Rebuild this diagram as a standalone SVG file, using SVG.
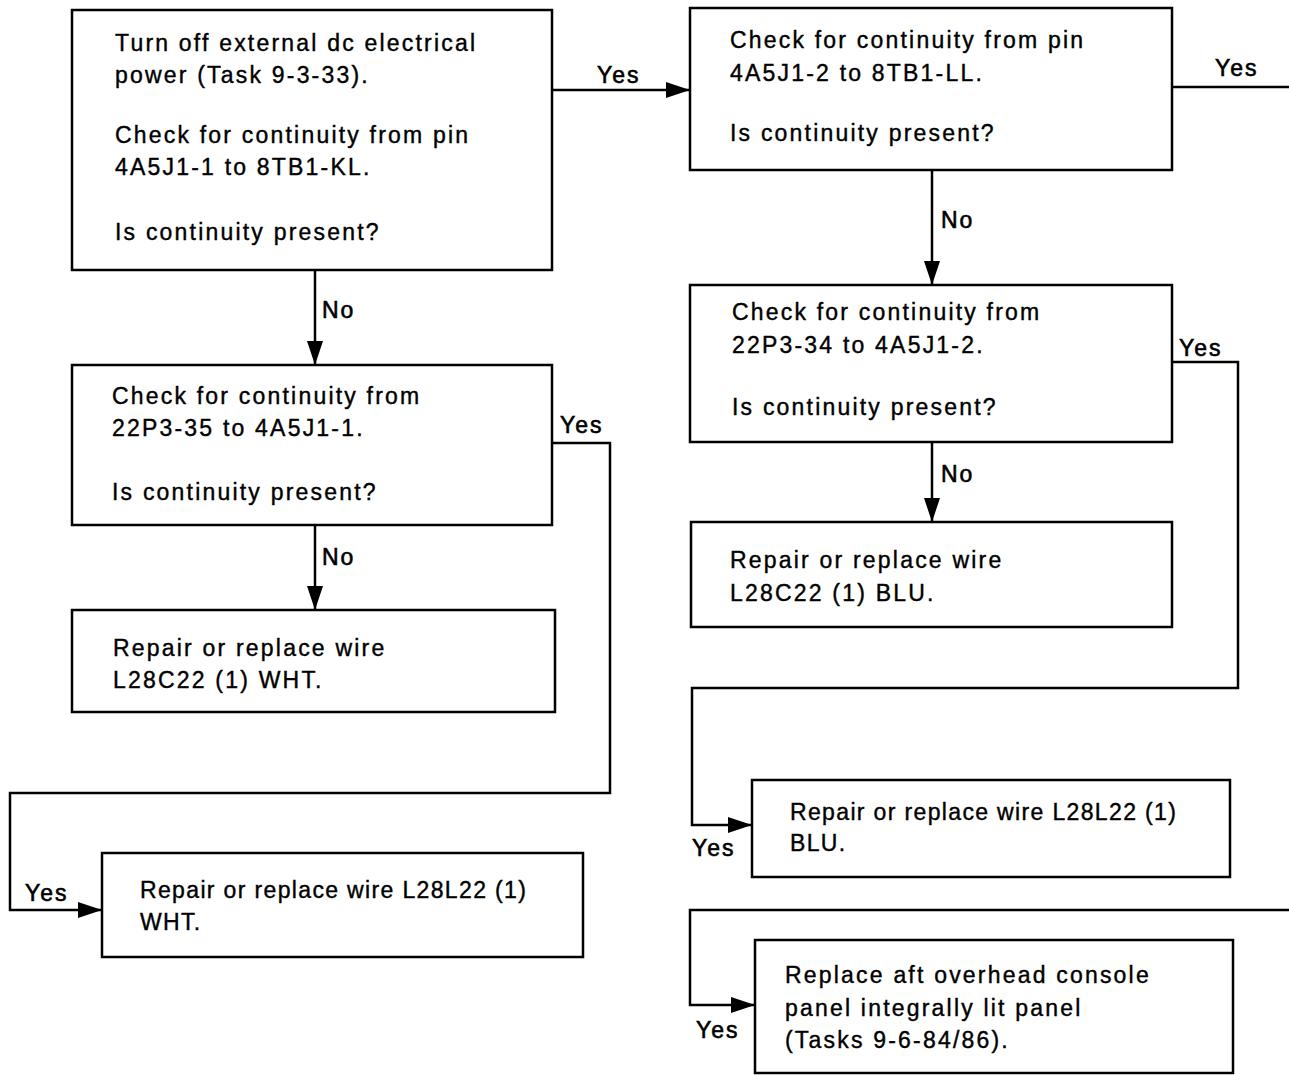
<svg xmlns="http://www.w3.org/2000/svg" width="1289" height="1075" viewBox="0 0 1289 1075">
<style>
.box{fill:#fff;stroke:#000;stroke-width:2.5}
.t{font-family:"Liberation Sans",Arial,sans-serif;font-size:23px;fill:#000;stroke:#000;stroke-width:0.4;letter-spacing:2.2px}
.n{letter-spacing:1.35px}
.c{fill:none;stroke:#000;stroke-width:2.5}
.lbl{font-family:"Liberation Sans",Arial,sans-serif;font-size:23px;fill:#000;stroke:#000;stroke-width:0.6;letter-spacing:2px}
</style>
<defs>
<marker id="ah" markerWidth="24" markerHeight="16" refX="24" refY="8" orient="auto" markerUnits="userSpaceOnUse">
<path d="M0,0 L24,8 L0,16 Z" fill="#000"/>
</marker>
</defs>
<rect width="1289" height="1075" fill="#fff"/>
<g id="connectors">
<path class="c" d="M552,90 H690" marker-end="url(#ah)"/>
<path class="c" d="M1172,87 H1289"/>
<path class="c" d="M932,170 V285" marker-end="url(#ah)"/>
<path class="c" d="M1172,362 H1238 V688 H692 V825 H752" marker-end="url(#ah)"/>
<path class="c" d="M932,442 V522" marker-end="url(#ah)"/>
<path class="c" d="M1289,910 H690 V1005 H755" marker-end="url(#ah)"/>
<path class="c" d="M315,270 V365" marker-end="url(#ah)"/>
<path class="c" d="M552,443 H610 V793 H10 V910 H102" marker-end="url(#ah)"/>
<path class="c" d="M315,525 V610" marker-end="url(#ah)"/>
<text class="lbl" x="597" y="83">Yes</text>
<text class="lbl" x="1215" y="76">Yes</text>
<text class="lbl" x="941" y="228">No</text>
<text class="lbl" x="1179" y="356">Yes</text>
<text class="lbl" x="941" y="482">No</text>
<text class="lbl" x="692" y="856">Yes</text>
<text class="lbl" x="696" y="1038">Yes</text>
<text class="lbl" x="322" y="318">No</text>
<text class="lbl" x="560" y="433">Yes</text>
<text class="lbl" x="322" y="565">No</text>
<text class="lbl" x="25" y="901">Yes</text>
</g>
<g id="n1">
<rect class="box" x="72" y="10" width="480" height="260"/>
<text class="t" x="115" y="51">Turn off external dc electrical</text>
<text class="t" x="115" y="83">power (Task 9-3-33).</text>
<text class="t" x="115" y="143">Check for continuity from pin</text>
<text class="t" x="115" y="175">4A5J1-1 to 8TB1-KL.</text>
<text class="t" x="115" y="240">Is continuity present?</text>
</g>
<g id="n2">
<rect class="box" x="690" y="8" width="482" height="162"/>
<text class="t" x="730" y="48">Check for continuity from pin</text>
<text class="t" x="730" y="81">4A5J1-2 to 8TB1-LL.</text>
<text class="t" x="730" y="141">Is continuity present?</text>
</g>
<g id="n3">
<rect class="box" x="690" y="285" width="482" height="157"/>
<text class="t" x="732" y="320">Check for continuity from</text>
<text class="t" x="732" y="353">22P3-34 to 4A5J1-2.</text>
<text class="t" x="732" y="415">Is continuity present?</text>
</g>
<g id="n4">
<rect class="box" x="691" y="522" width="481" height="105"/>
<text class="t" x="730" y="568">Repair or replace wire</text>
<text class="t" x="730" y="601">L28C22 (1) BLU.</text>
</g>
<g id="n5">
<rect class="box" x="752" y="780" width="478" height="97"/>
<text class="t n" x="790" y="820">Repair or replace wire L28L22 (1)</text>
<text class="t n" x="790" y="851">BLU.</text>
</g>
<g id="n6">
<rect class="box" x="755" y="940" width="478" height="133"/>
<text class="t" x="785" y="983">Replace aft overhead console</text>
<text class="t" x="785" y="1016">panel integrally lit panel</text>
<text class="t" x="785" y="1048">(Tasks 9-6-84/86).</text>
</g>
<g id="n7">
<rect class="box" x="72" y="365" width="480" height="160"/>
<text class="t" x="112" y="404">Check for continuity from</text>
<text class="t" x="112" y="436">22P3-35 to 4A5J1-1.</text>
<text class="t" x="112" y="500">Is continuity present?</text>
</g>
<g id="n8">
<rect class="box" x="72" y="610" width="483" height="102"/>
<text class="t" x="113" y="656">Repair or replace wire</text>
<text class="t" x="113" y="688">L28C22 (1) WHT.</text>
</g>
<g id="n9">
<rect class="box" x="102" y="853" width="481" height="104"/>
<text class="t n" x="140" y="898">Repair or replace wire L28L22 (1)</text>
<text class="t n" x="140" y="930">WHT.</text>
</g>
</svg>
